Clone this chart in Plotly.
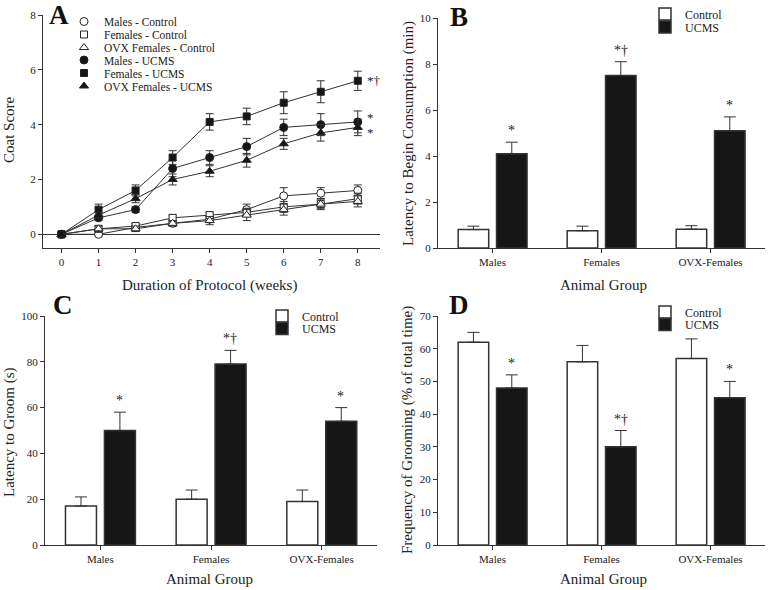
import plotly.graph_objects as go

# ---------------- Data ----------------
weeks = [0, 1, 2, 3, 4, 5, 6, 7, 8]
males_ctrl = [0, 0, 0.25, 0.4, 0.55, 0.9, 1.4, 1.5, 1.6]
males_ctrl_err = [0, 0.05, 0.05, 0.1, 0.1, 0.2, 0.3, 0.2, 0.2]
fem_ctrl = [0, 0.2, 0.3, 0.6, 0.7, 0.8, 1.0, 1.1, 1.3]
fem_ctrl_err = [0, 0.1, 0.1, 0.1, 0.1, 0.15, 0.2, 0.2, 0.2]
ovx_ctrl = [0, 0.2, 0.2, 0.4, 0.5, 0.7, 0.9, 1.1, 1.2]
ovx_ctrl_err = [0, 0.1, 0.1, 0.1, 0.15, 0.2, 0.2, 0.15, 0.2]
males_ucms = [0, 0.6, 0.9, 2.4, 2.8, 3.2, 3.9, 4.0, 4.1]
males_ucms_err = [0, 0.1, 0.1, 0.3, 0.25, 0.3, 0.3, 0.4, 0.4]
fem_ucms = [0, 0.9, 1.6, 2.8, 4.1, 4.3, 4.8, 5.2, 5.6]
fem_ucms_err = [0, 0.2, 0.2, 0.25, 0.3, 0.3, 0.4, 0.4, 0.35]
ovx_ucms = [0, 0.7, 1.3, 2.0, 2.3, 2.7, 3.3, 3.7, 3.9]
ovx_ucms_err = [0, 0.1, 0.15, 0.2, 0.2, 0.25, 0.2, 0.3, 0.3]

groups = ["Males", "Females", "OVX-Females"]

b_ctrl = [0.8, 0.75, 0.82]
b_ctrl_err = [0.15, 0.2, 0.15]
b_ucms = [4.1, 7.5, 5.1]
b_ucms_err = [0.5, 0.6, 0.6]
b_marks = ["*", "*†", "*"]

c_ctrl = [17, 20, 19]
c_ctrl_err = [4, 4, 5]
c_ucms = [50, 79, 54]
c_ucms_err = [8, 6, 6]
c_marks = ["*", "*†", "*"]

d_ctrl = [62, 56, 57]
d_ctrl_err = [3, 5, 6]
d_ucms = [48, 30, 45]
d_ucms_err = [4, 5, 5]
d_marks = ["*", "*†", "*"]

a_marks = ["*†", "*", "*"]  # Females, Males, OVX UCMS at week 8

# ---------------- Styles ----------------
W, H = 770, 590
SERIF = "Liberation Serif"
INK = "#222222"
LINE = "#333333"
BAR_BLACK = "#161616"


def px(x):
    return x / W


def py(y):
    return 1 - y / H


fig = go.Figure()

# ---------------- Panel A ----------------
a_series = [
    ("Males - Control", males_ctrl, males_ctrl_err, "circle", "white", 8),
    ("Females - Control", fem_ctrl, fem_ctrl_err, "square", "white", 7),
    ("OVX Females - Control", ovx_ctrl, ovx_ctrl_err, "triangle-up", "white", 8),
    ("Males - UCMS", males_ucms, males_ucms_err, "circle", BAR_BLACK, 8),
    ("Females - UCMS", fem_ucms, fem_ucms_err, "square", BAR_BLACK, 7),
    ("OVX Females - UCMS", ovx_ucms, ovx_ucms_err, "triangle-up", BAR_BLACK, 8),
]
a_leg_y = [21.5, 34.5, 47.5, 60, 73, 86]
# connecting lines first (no legend)
for name, vals, errs, sym, fill, sz in a_series:
    fig.add_trace(go.Scatter(
        x=weeks, y=vals, name=name, mode="lines", showlegend=False,
        line=dict(color=LINE, width=1), xaxis="x", yaxis="y", hoverinfo="skip",
    ))
# markers + error bars with legend entries
for i, (name, vals, errs, sym, fill, sz) in enumerate(a_series):
    lg = "legend" if i == 0 else f"legend{i+1}"
    fig.add_trace(go.Scatter(
        x=weeks, y=vals, name=name, mode="markers",
        marker=dict(symbol=sym, size=sz, color=fill, line=dict(color=INK, width=1)),
        error_y=dict(type="data", array=errs, color=LINE, thickness=1, width=4),
        xaxis="x", yaxis="y", legend=lg, showlegend=True,
    ))

# ---------------- Bar panels ----------------
bar_panels = [
    ("x2", "y2", b_ctrl, b_ctrl_err, b_ucms, b_ucms_err, 7),
    ("x3", "y3", c_ctrl, c_ctrl_err, c_ucms, c_ucms_err, 9),
    ("x4", "y4", d_ctrl, d_ctrl_err, d_ucms, d_ucms_err, 11),
]
for xa, ya, cv, ce, uv, ue, lgi in bar_panels:
    fig.add_trace(go.Bar(
        x=groups, y=cv, name="Control", width=0.28, offset=-0.315,
        marker=dict(color="white", line=dict(color=LINE, width=1.5)),
        error_y=dict(type="data", array=ce, arrayminus=[0] * len(ce), symmetric=False,
                     color=LINE, thickness=1, width=6),
        xaxis=xa, yaxis=ya, legend=f"legend{lgi}", showlegend=True,
    ))
    fig.add_trace(go.Bar(
        x=groups, y=uv, name="UCMS", width=0.28, offset=0.037,
        marker=dict(color=BAR_BLACK, line=dict(color=LINE, width=1.5)),
        error_y=dict(type="data", array=ue, arrayminus=[0] * len(ue), symmetric=False,
                     color=LINE, thickness=1, width=6),
        xaxis=xa, yaxis=ya, legend=f"legend{lgi+1}", showlegend=True,
    ))

# ---------------- Axes ----------------
tickfont = dict(family=SERIF, size=11, color=INK)


def axis(domain, anchor, **kw):
    d = dict(domain=domain, anchor=anchor, showline=True, linecolor=LINE, linewidth=1,
             ticks="outside", ticklen=4, tickwidth=1, tickcolor=LINE, showgrid=False,
             zeroline=False, tickfont=tickfont, automargin=False)
    d.update(kw)
    return d


xA = [px(43), px(380)]
yA = [py(248), py(15)]
xB = [px(438), px(765)]
yB = [py(248), py(18)]
xC = [px(45), px(377)]
yC = [py(545), py(316)]
xD = [px(438), px(765)]
yD = [py(545), py(316)]

layout = dict(
    width=W, height=H, margin=dict(l=0, r=0, t=0, b=0, autoexpand=False),
    paper_bgcolor="white", plot_bgcolor="white",
    font=dict(family=SERIF, color=INK),
    barmode="overlay", showlegend=True,
    xaxis=axis(xA, "y", range=[-0.5, 8.6], tickvals=weeks),
    yaxis=axis(yA, "x", range=[-0.5, 8], tickvals=[0, 2, 4, 6, 8],
               zeroline=True, zerolinecolor=LINE, zerolinewidth=1),
    xaxis2=axis(xB, "y2", range=[-0.5, 2.5], type="category"),
    yaxis2=axis(yB, "x2", range=[0, 10], tickvals=[0, 2, 4, 6, 8, 10]),
    xaxis3=axis(xC, "y3", range=[-0.5, 2.5], type="category"),
    yaxis3=axis(yC, "x3", range=[0, 100], tickvals=[0, 20, 40, 60, 80, 100]),
    xaxis4=axis(xD, "y4", range=[-0.5, 2.5], type="category"),
    yaxis4=axis(yD, "x4", range=[0, 70], tickvals=[0, 10, 20, 30, 40, 50, 60, 70]),
)


def leg(x, y, size=11.5):
    return dict(x=px(x), y=py(y), xanchor="left", yanchor="middle",
                bgcolor="rgba(0,0,0,0)", borderwidth=0,
                font=dict(family=SERIF, size=size, color=INK), tracegroupgap=0)


for i, yy in enumerate(a_leg_y):
    key = "legend" if i == 0 else f"legend{i+1}"
    layout[key] = leg(64, yy)
layout["legend7"] = leg(645, 14, 12)
layout["legend8"] = leg(645, 27, 12)
layout["legend9"] = leg(262, 316, 12)
layout["legend10"] = leg(262, 328.5, 12)
layout["legend11"] = leg(645, 312, 12)
layout["legend12"] = leg(645, 324.5, 12)

fig.update_layout(**layout)

# ---------------- Annotations ----------------
ann = []
title_font = dict(family=SERIF, size=15, color=INK)
# panel letters
for letter, x, y in [("A", 59, 15), ("B", 459, 17), ("C", 63, 305), ("D", 459, 305)]:
    ann.append(dict(text=f"<b>{letter}</b>", x=px(x), y=py(y), xref="paper", yref="paper",
                    showarrow=False, xanchor="center", yanchor="middle",
                    font=dict(family=SERIF, size=27, color="#111111")))
# axis titles
for text, x, y, ang in [
    ("Coat Score", 9, 130, -90),
    ("Duration of Protocol (weeks)", 210, 285, 0),
    ("Latency to Begin Consumption (min)", 408, 133, -90),
    ("Animal Group", 603, 285, 0),
    ("Latency to Groom (s)", 9, 432, -90),
    ("Animal Group", 210, 579, 0),
    ("Frequency of Grooming (% of total time)", 408, 430, -90),
    ("Animal Group", 603, 579, 0),
]:
    ann.append(dict(text=text, x=px(x), y=py(y), xref="paper", yref="paper",
                    showarrow=False, xanchor="center", yanchor="middle",
                    textangle=ang, font=title_font))

# significance marks, panel A (at week 8)
for mark, vals, ys in zip(a_marks, [fem_ucms, males_ucms, ovx_ucms], [0, 4, -5]):
    ann.append(dict(text=mark, x=weeks[-1], y=vals[-1], xref="x", yref="y",
                    showarrow=False, xanchor="left", yanchor="middle", xshift=7, yshift=ys,
                    font=dict(family=SERIF, size=13, color=INK)))
# significance marks, bar panels
for (xa, ya, cv, ce, uv, ue, _), marks in zip(bar_panels, [b_marks, c_marks, d_marks]):
    for g, v, e, m in zip(groups, uv, ue, marks):
        ann.append(dict(text=m, x=g, y=v + e, xref=xa, yref=ya, xshift=0.177 * 109,
                        showarrow=False, xanchor="center", yanchor="bottom", yshift=2,
                        font=dict(family=SERIF, size=14, color=INK)))

fig.update_layout(annotations=ann)

fig.write_html("out.html", config={"displayModeBar": False},
               post_script="document.body.style.margin='0px';document.body.style.overflow='hidden';")
